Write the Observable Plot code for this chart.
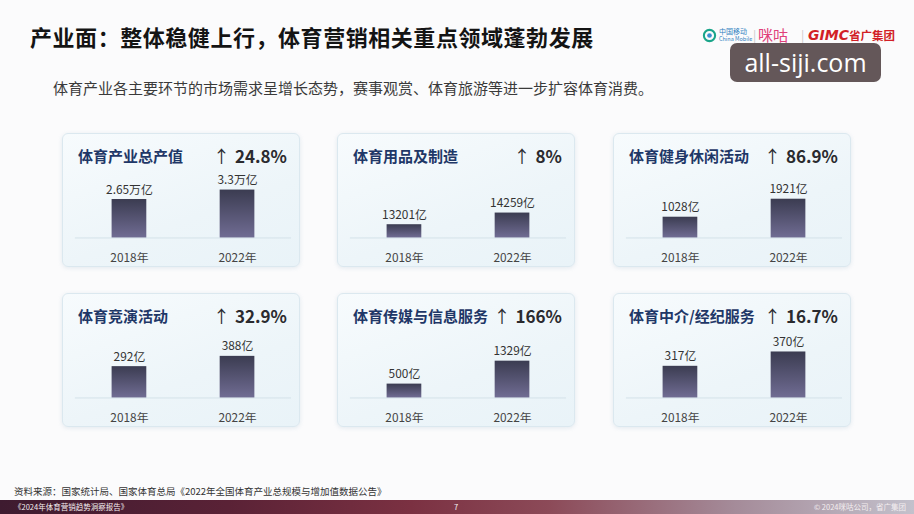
<!DOCTYPE html>
<html>
<head>
<meta charset="utf-8">
<script src="https://cdn.jsdelivr.net/npm/d3@7"></script>
<script src="https://cdn.jsdelivr.net/npm/@observablehq/plot@0.6"></script>
<style>
  body { margin:0; width:914px; height:514px; overflow:hidden; background:#fbfbfc; position:relative;
         font-family:"Noto Sans CJK SC","Noto Sans",sans-serif; }
  #title { position:absolute; left:30px; top:20px; font-size:22px; font-weight:700; color:#141414; line-height:32px; letter-spacing:0.55px; }
  #subtitle { position:absolute; left:53px; top:77px; font-size:15px; color:#3a3a3a; line-height:22px; }
  .card { position:absolute; width:238px; height:134px; box-sizing:border-box; border-radius:6px;
          border:1px solid #dbe8ef; background:linear-gradient(160deg,#f7fbfd 0%,#edf5f9 60%,#e9f3f8 100%);
          box-shadow:0 1px 4px rgba(140,175,195,0.22); }
  .card .ct { position:absolute; top:10px; left:15px; font-size:15px; font-weight:700; color:#1f3767; line-height:24px; }
  .card .cp { position:absolute; top:9px; right:12px; font-size:17px; font-weight:700; color:#2a2a2e; line-height:26px; }
  .card .cp .ar { font-weight:400; margin-right:5px; }
  .card .plot { position:absolute; left:0; top:39px; }
  .lg { position:absolute; white-space:nowrap; }
  #wm { position:absolute; left:730px; top:43px; width:151px; height:39px; border-radius:7px; background:rgba(88,74,76,0.93);
        color:#fff; font-family:"Open Sans","DejaVu Sans",sans-serif; font-size:25px; line-height:39px; text-align:center; }
  #source { position:absolute; left:14px; top:484px; font-size:9.5px; color:#333; line-height:14px; }
  #footbar { position:absolute; left:0; top:500px; width:914px; height:14px;
             background:linear-gradient(90deg,#3e1b30 0%,#5a2236 25%,#7b3142 45%,#8c4a58 60%,#a48a98 80%,#c3c1cc 100%); }
  #footbar span { position:absolute; top:0; font-size:7.5px; line-height:14px; color:#f4eef0; }
</style>
</head>
<body>
<div id="title">产业面：整体稳健上行，体育营销相关重点领域蓬勃发展</div>
<div id="subtitle">体育产业各主要环节的市场需求呈增长态势，赛事观赏、体育旅游等进一步扩容体育消费。</div>

<svg class="lg" style="left:702px;top:28px" width="15" height="15" viewBox="0 0 16 16"><circle cx="8" cy="8" r="6" fill="none" stroke="#1aa58a" stroke-width="2.2"/><circle cx="8" cy="8" r="2.5" fill="#3c8fd0"/></svg>
<div class="lg" style="left:719px;top:28px;color:#2f7fc0;font-size:7px;line-height:7px">中国移动<br><span style="font-size:5.5px">China Mobile</span></div>
<div class="lg" style="left:753px;top:27px;color:#c9c9c9;font-size:12px;line-height:16px">|</div>
<div class="lg" style="left:758px;top:26px;color:#e0407a;font-size:15px;line-height:18px">咪咕</div>
<div class="lg" style="left:801px;top:27px;color:#c9c9c9;font-size:12px;line-height:16px">|</div>
<div class="lg" style="left:808px;top:27px;color:#d21f26;font-size:14px;line-height:16px;font-weight:900;font-style:italic;font-family:'DejaVu Sans',sans-serif">GIMC</div>
<div class="lg" style="left:849px;top:27px;color:#d21f26;font-size:11.5px;line-height:16px;font-weight:700">省广集团</div>
<div id="wm">all-siji.com</div>

<div id="source">资料来源：国家统计局、国家体育总局《2022年全国体育产业总规模与增加值数据公告》</div>
<div id="footbar">
  <span style="left:14px">《2024年体育营销趋势洞察报告》</span>
  <span style="left:454px">7</span>
  <span style="right:8px">© 2024咪咕公司，省广集团</span>
</div>

<svg width="0" height="0" style="position:absolute">
  <defs>
    <linearGradient id="barGrad" x1="0" y1="0" x2="0" y2="1">
      <stop offset="0%" stop-color="#3b3c51"/>
      <stop offset="100%" stop-color="#706c93"/>
    </linearGradient>
  </defs>
</svg>

<script>
// ---- data ----
const cardTitles = ["体育产业总产值", "体育用品及制造", "体育健身休闲活动", "体育竞演活动", "体育传媒与信息服务", "体育中介/经纪服务"];
const growth = [24.8, 8, 86.9, 32.9, 166, 16.7];
const years = ["2018年", "2022年"];
const values2018 = [2.65, 13201, 1028, 292, 500, 317];
const values2022 = [3.3, 14259, 1921, 388, 1329, 370];
const units = ["万亿", "亿", "亿", "亿", "亿", "亿"];
// per-card y scale domains (as in the original, some cards do not start at zero)
const yDomains = [[0, 4.1], [12000, 17400], [0, 2950], [0, 555], [0, 2150], [200, 420]];

// ---- layout ----
const cardLeft = [62, 337, 613];
const cardTop = [133, 293];

cardTitles.forEach((title, i) => {
  const card = document.createElement("div");
  card.className = "card";
  card.style.left = cardLeft[i % 3] + "px";
  card.style.top = cardTop[Math.floor(i / 3)] + "px";

  const ct = document.createElement("div");
  ct.className = "ct";
  ct.textContent = title;
  card.appendChild(ct);

  const cp = document.createElement("div");
  cp.className = "cp";
  cp.innerHTML = `<span class="ar">↑</span>${growth[i]}%`;
  card.appendChild(cp);

  const data = years.map((y, j) => ({year: y, value: j === 0 ? values2018[i] : values2022[i]}));
  const floor = yDomains[i][0];

  const chart = Plot.plot({
    width: 238,
    height: 95,
    marginTop: 5,
    marginBottom: 30,
    marginLeft: 12,
    marginRight: 8,
    style: {background: "transparent", fontFamily: "'Noto Sans CJK SC','Noto Sans',sans-serif", fontSize: "12px", overflow: "visible"},
    x: {domain: years, paddingInner: 0.68, paddingOuter: 0.34, label: null},
    y: {domain: yDomains[i], axis: null},
    marks: [
      Plot.ruleY([floor], {stroke: "#d3e2ea", strokeWidth: 1}),
      Plot.barY(data, {x: "year", y1: floor, y2: "value", fill: "url(#barGrad)"}),
      Plot.text(data, {x: "year", y: "value", text: d => d.value + units[i], dy: -6, lineAnchor: "bottom", fill: "#333", fontSize: 12}),
      Plot.axisX({tickSize: 0, tickPadding: 16, fill: "#444", fontSize: 12, label: null})
    ]
  });
  const wrap = document.createElement("div");
  wrap.className = "plot";
  wrap.appendChild(chart);
  card.appendChild(wrap);
  document.body.appendChild(card);
});
</script>
</body>
</html>
